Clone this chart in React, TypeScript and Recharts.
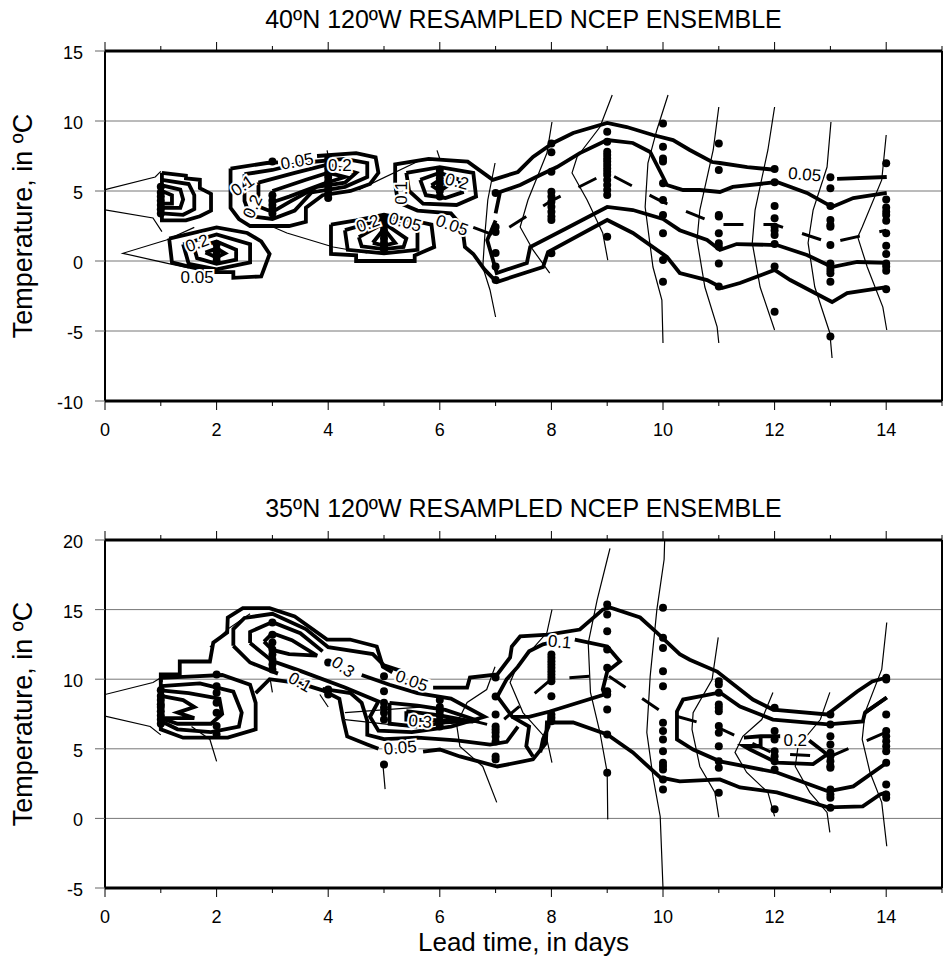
import React from 'react';
import { ComposedChart, Line, Scatter, XAxis, YAxis, CartesianGrid, ReferenceLine } from 'recharts';

type P = number[][];
const FONT = '"Liberation Sans", Arial, Helvetica, sans-serif';

const xTicks = [0, 1, 2, 3, 4, 5, 6, 7, 8, 9, 10, 11, 12, 13, 14, 15];
const xDomain = [0, 15];
const xLabel = 'Lead time, in days';
const yLabel = 'Temperature, in ºC';

// ---------------- TOP PANEL (40N) ----------------
const topTitle = '40ºN 120ºW RESAMPLED NCEP ENSEMBLE';
const topYDomain = [-10, 15];
const topYTicks = [-10, -5, 0, 5, 10, 15];

const topDots: [number, number[]][] = [
  [1, [5.3, 4.9, 4.6, 4.3, 4.0, 3.7, 3.4]],
  [2, [1.2, 0.8, 0.5, 0.3, 0.0]],
  [3, [7.1, 4.7, 4.3, 4.0, 3.7, 3.4]],
  [4, [7.3, 6.9, 6.6, 6.3, 6.0, 5.7, 5.4, 5.1, 4.8, 4.5]],
  [5, [3.1, 2.8, 2.5, 2.2, 1.9, 1.6, 1.3, 1.0, 0.8]],
  [6, [6.5, 6.2, 5.9, 5.6, 5.3, 5.0, 4.6]],
  [7, [4.86, 2.43, 2.07, 0.57, -0.4, -1.36]],
  [8, [8.4, 7.76, 6.38, 4.95, 4.6, 4.24, 3.88, 3.52, 3.17, 2.93, 0.55]],
  [9, [9.24, 8.52, 7.8, 7.57, 7.33, 7.1, 6.86, 6.6, 6.38, 6.14, 5.79, 5.43, 5.07, 4.71, 1.74]],
  [10, [9.83, 8.16, 7.33, 7.1, 5.55, 4.36, 3.29, 1.98, 0.07, -1.48]],
  [11, [8.4, 6.5, 3.29, 3.17, 1.98, 1.26, 1.02, -0.17, -1.83]],
  [12, [6.57, 5.62, 3.93, 3.05, 2.45, 2.17, 1.86, 1.21, -0.4, -3.62]],
  [13, [5.98, 5.19, 3.93, 2.93, 2.57, 2.45, 1.14, -0.17, -0.4, -0.64, -0.88, -1.48, -5.4]],
  [14, [6.98, 4.4, 3.83, 3.52, 3.29, 2.88, 1.98, 1.09, 0.5, -0.17, -0.4, -0.69, -2.02]],
];

const topThick: P[] = [
  [[1.02, 6.3], [1.45, 6.1], [1.45, 5.9], [1.7, 5.8], [1.7, 5.2], [1.9, 4.8], [1.9, 3.6], [1.7, 3.2], [1.45, 2.9], [1.02, 2.9], [1.02, 6.3]],
  [[1.02, 5.8], [1.5, 5.5], [1.6, 4.7], [1.6, 3.7], [1.4, 3.3], [1.02, 3.4]],
  [[1.02, 5.4], [1.35, 5.1], [1.4, 4.4], [1.35, 3.8], [1.02, 3.8]],
  [[1.02, 5.0], [1.2, 4.7], [1.2, 4.1], [1.02, 4.1], [1.02, 5.0]],
  [[1.15, 1.6], [2.0, 2.4], [2.55, 2.0], [2.8, 1.4], [2.95, 0.5], [2.8, -1.1], [2.3, -1.2], [2.3, -0.8], [1.95, -0.8], [1.5, -0.4], [1.2, -0.1], [1.15, 1.6]],
  [[1.4, 1.2], [2.0, 1.9], [2.6, 1.2], [2.6, -0.1], [2.0, -0.6], [1.5, -0.2], [1.4, 1.2]],
  [[1.6, 0.9], [2.0, 1.4], [2.35, 0.8], [2.35, 0.1], [2.0, -0.2], [1.65, 0.2], [1.6, 0.9]],
  [[1.8, 0.6], [2.0, 0.9], [2.15, 0.55], [2.0, 0.25], [1.8, 0.6]],
  [[2.25, 6.6], [2.9, 7.0], [3.1, 7.05]],
  [[3.8, 7.5], [4.5, 7.7], [4.85, 7.4], [4.9, 6.3], [4.75, 5.5], [4.4, 5.0], [3.9, 4.7], [3.6, 3.8], [3.6, 2.8], [3.3, 2.5], [2.6, 2.5], [2.4, 3.0], [2.25, 3.8], [2.25, 6.6]],
  [[2.5, 6.2], [3.0, 6.5], [3.5, 7.0], [4.3, 7.3], [4.7, 7.0], [4.7, 6.0], [4.3, 5.3], [3.7, 4.9], [3.4, 3.6], [3.0, 3.0], [2.6, 3.2], [2.5, 4.3], [2.5, 6.2]],
  [[2.75, 5.6], [3.4, 6.3], [4.0, 6.9], [4.5, 6.3], [4.3, 5.6], [3.8, 5.3], [3.3, 4.2], [3.0, 3.5], [2.75, 3.9], [2.75, 5.6]],
  [[3.0, 5.0], [3.6, 5.8], [4.0, 6.3], [4.3, 6.0], [3.9, 5.5], [3.3, 4.6], [3.0, 4.2], [3.0, 5.0]],
  [[4.05, 2.6], [4.5, 2.9], [5.0, 3.3], [5.5, 2.9], [5.85, 2.6], [5.9, 1.0], [5.55, 0.4], [5.55, 0.0], [4.5, 0.0], [4.5, 0.4], [4.05, 0.5], [4.05, 2.6]],
  [[4.3, 2.2], [5.0, 3.0], [5.6, 2.2], [5.6, 0.8], [5.0, 0.55], [4.35, 0.8], [4.3, 2.2]],
  [[4.55, 1.7], [5.0, 2.7], [5.4, 1.6], [5.35, 1.0], [5.0, 0.85], [4.6, 1.05], [4.55, 1.7]],
  [[4.8, 1.3], [5.0, 2.3], [5.2, 1.3], [5.0, 1.1], [4.8, 1.3]],
  [[5.4, 6.3], [6.0, 6.7], [6.6, 6.3], [6.65, 4.6], [6.3, 4.0], [5.7, 4.1], [5.45, 5.0], [5.4, 6.3]],
  [[5.65, 5.8], [6.0, 6.3], [6.35, 5.8], [6.4, 4.9], [6.1, 4.5], [5.75, 4.7], [5.65, 5.8]],
  [[5.85, 5.4], [6.0, 5.8], [6.15, 5.4], [6.0, 5.0], [5.85, 5.4]],
  [[5.25, 4.2], [5.2, 5.5], [5.2, 6.9], [5.8, 7.3], [6.5, 7.1], [6.95, 5.8], [7.4, 6.36], [7.67, 7.43], [8.03, 8.43], [8.39, 9.14], [9.0, 9.86], [9.35, 9.57], [9.82, 9.0], [10.18, 8.64], [10.48, 7.93], [10.88, 7.07], [11.02, 7.0], [11.51, 6.71], [12.04, 6.5]],
  [[13.12, 5.86], [14.01, 6.0]],
  [[5.25, 4.2], [5.6, 3.6], [6.2, 3.4], [6.4, 2.5], [6.45, 1.0], [6.6, 0.5], [6.8, -0.6], [7.02, -1.5], [7.85, -0.43], [7.94, 0.64], [9.0, 2.93], [9.46, 2.0], [10.07, 0.29], [10.3, -0.86], [10.79, -1.36], [11.06, -1.93], [11.38, -1.57], [12.0, -0.64], [12.28, -1.36], [13.03, -2.93], [13.3, -2.29], [14.01, -1.86]],
  [[7.0, 3.4], [7.08, 4.93], [7.44, 5.43], [7.8, 6.14], [8.1, 6.71], [8.51, 7.71], [9.0, 8.64], [9.46, 8.43], [9.77, 7.79], [10.0, 6.0], [10.07, 5.43], [10.36, 5.07], [10.66, 5.07], [11.02, 4.93], [11.25, 5.29], [12.04, 5.64], [12.58, 4.86], [13.03, 3.86], [13.41, 4.5], [14.01, 4.86]],
  [[7.0, 2.9], [6.85, 1.5], [7.02, -0.86], [7.56, -0.14], [7.62, 1.0], [8.28, 2.36], [9.0, 3.86], [9.46, 3.64], [10.0, 3.0], [10.3, 2.2], [10.79, 1.5], [11.02, 0.79], [11.32, 1.21], [12.04, 1.14], [12.58, 0.43], [13.03, -0.43], [13.48, -0.07], [14.01, -0.14]],
];

const topThin: P[] = [
  [[0.0, 5.1], [0.9, 6.0], [1.0, 6.4]],
  [[0.0, 3.65], [0.86, 3.07], [1.02, 2.1]],
  [[1.6, 2.4], [1.1, 1.5], [0.32, 0.55], [1.1, -0.15], [1.5, -0.5]],
  [[3.0, 2.45], [3.26, 2.0], [4.09, 1.0], [4.7, 0.57]],
  [[4.55, 5.1], [5.65, 7.2]],
  [[6.0, 7.3], [5.95, 7.9]],
  [[3.98, 7.9], [4.0, 7.5]],
  [[6.99, 7.0], [6.86, 4.36], [6.81, 2.0], [6.77, -0.43], [6.9, -2.07], [7.0, -4.0]],
  [[8.01, 9.93], [7.92, 7.71], [7.58, 4.36], [7.44, 2.43], [7.67, 0.79], [7.97, -0.86]],
  [[9.09, 11.86], [8.87, 9.57], [8.46, 7.43], [8.37, 6.29], [8.64, 4.36], [8.92, 2.0], [9.01, 0.07]],
  [[10.09, 11.86], [9.89, 9.36], [9.73, 7.0], [9.68, 3.86], [9.82, -0.43], [9.98, -2.79], [10.0, -5.86]],
  [[11.0, 11.0], [10.9, 7.93], [10.66, 3.64], [10.61, 1.5], [10.75, -1.86], [10.97, -4.71], [11.0, -5.86]],
  [[12.0, 11.0], [11.88, 7.93], [11.65, 3.64], [11.6, 1.29], [11.74, -1.86], [12.0, -4.93]],
  [[13.01, 9.93], [12.94, 6.71], [12.69, 3.64], [12.6, 1.29], [12.72, -1.86], [12.99, -5.14], [13.03, -6.93]],
  [[14.0, 9.0], [13.92, 5.79], [13.57, 2.43], [13.49, 1.71], [13.66, -0.43], [13.94, -3.29], [14.01, -4.93]],
];

const topMean: P = [[6.6, 2.4], [7, 1.8], [8, 4.3], [9, 6.3], [10, 4.2], [11, 2.6], [12, 2.6], [13, 1.3], [14, 2.2]];

const topLabels = [
  { x: 1.65, y: -1.14, t: '0.05', a: 0 },
  { x: 1.65, y: 1.3, t: '0.2', a: 20 },
  { x: 2.46, y: 5.4, t: '0.1', a: 35 },
  { x: 3.44, y: 7.14, t: '0.05', a: 10 },
  { x: 4.21, y: 6.86, t: '0.2', a: 0 },
  { x: 2.64, y: 3.9, t: '0.2', a: 65 },
  { x: 5.3, y: 4.86, t: '0.1', a: 90 },
  { x: 6.31, y: 5.7, t: '0.2', a: -15 },
  { x: 4.71, y: 2.7, t: '0.2', a: 20 },
  { x: 5.38, y: 2.8, t: '0.05', a: -15 },
  { x: 6.22, y: 2.57, t: '0.05', a: -20 },
  { x: 12.54, y: 6.2, t: '0.05', a: -5 },
];

// ---------------- BOTTOM PANEL (35N) ----------------
const botTitle = '35ºN 120ºW RESAMPLED NCEP ENSEMBLE';
const botYDomain = [-5, 20];
const botYTicks = [-5, 0, 5, 10, 15, 20];

const botDots: [number, number[]][] = [
  [1, [9.2, 8.8, 8.5, 8.2, 8.0, 7.7, 7.4, 7.1, 6.8]],
  [2, [10.34, 9.5, 9.02, 8.3, 7.59, 6.63, 6.03]],
  [3, [14.07, 13.2, 12.63, 12.13, 11.77, 11.41, 11.05, 10.7]],
  [4, [11.2, 9.26, 8.9]],
  [5, [10.22, 9.14, 8.3, 7.95, 7.59, 7.11, 3.88]],
  [6, [8.5, 8.0, 7.7, 7.4, 7.0, 6.6]],
  [7, [10.12, 8.76, 7.47, 6.6, 6.39, 6.17, 5.89, 5.53, 4.45, 4.24]],
  [8, [11.77, 11.54, 11.29, 11.05, 10.82, 10.57, 10.34, 10.1, 9.86, 8.78, 7.47, 7.23, 6.98]],
  [9, [15.36, 14.64, 13.45, 12.13, 10.82, 9.14, 8.9, 7.82, 6.03, 3.28]],
  [10, [15.13, 12.97, 12.25, 10.57, 9.5, 6.87, 6.27, 5.67, 4.83, 4.0, 3.76, 3.52, 2.8, 2.08]],
  [11, [9.86, 9.62, 9.02, 8.18, 7.95, 7.7, 6.63, 6.15, 5.19, 4.11, 3.64, 1.84]],
  [12, [7.95, 6.27, 5.67, 4.83, 4.47, 4.11, 3.52, 0.65]],
  [13, [7.47, 6.75, 5.91, 5.31, 4.72, 4.47, 4.11, 3.75, 3.64, 2.08, 1.72, 1.49, 0.77]],
  [14, [10.1, 9.98, 7.47, 6.27, 5.91, 5.55, 5.19, 4.83, 4.0, 2.44, 1.72, 1.49]],
];

const botThick: P[] = [
  [[1.0, 10.1], [1.6, 10.2], [2.1, 10.3], [2.6, 9.6], [2.7, 8.3], [2.7, 6.4], [2.2, 5.8], [1.4, 5.8], [1.0, 6.4], [1.0, 10.1]],
  [[1.0, 9.5], [1.7, 9.7], [2.3, 9.1], [2.45, 7.6], [2.4, 6.6], [1.9, 6.2], [1.3, 6.4], [1.0, 7.0], [1.0, 9.5]],
  [[1.0, 9.2], [1.5, 9.0], [2.05, 8.6], [2.1, 7.5], [1.9, 6.8], [1.3, 6.8], [1.0, 7.2], [1.0, 9.2]],
  [[1.0, 8.8], [1.4, 8.5], [1.6, 8.0], [1.3, 7.6], [1.6, 7.2], [1.0, 7.2]],
  [[1.0, 9.8], [1.0, 10.35], [1.34, 10.35], [1.34, 11.27], [1.88, 11.27], [1.94, 12.63], [2.19, 13.35], [2.2, 14.43], [2.47, 15.1], [2.95, 15.1], [3.4, 14.5], [3.98, 12.85], [4.39, 12.85], [4.87, 12.35], [4.98, 10.9], [5.15, 10.5]],
  [[5.88, 9.4], [6.49, 9.4], [6.54, 10.12], [7.03, 10.34], [7.26, 11.56], [7.29, 12.35], [7.44, 13.07], [7.94, 13.2], [8.51, 13.57], [8.92, 15.0], [9.05, 15.15], [9.59, 14.43], [9.89, 13.35], [10.3, 11.8], [10.48, 11.4], [10.97, 10.55], [11.38, 9.26], [11.61, 8.54], [11.97, 7.82], [12.94, 7.47], [13.48, 9.12], [13.75, 9.84], [14.01, 10.12]],
  [[2.7, 9.0], [2.95, 10.0], [3.5, 9.7], [3.9, 9.2], [4.2, 8.6], [4.27, 7.1], [4.34, 5.89], [4.7, 5.31], [4.9, 5.0]],
  [[5.7, 4.8], [6.0, 4.95], [6.36, 4.45], [7.03, 3.73], [7.67, 4.24], [7.9, 5.4], [7.92, 6.9], [8.39, 6.89], [9.0, 6.03], [9.46, 4.74], [9.95, 2.94], [10.3, 2.66], [11.02, 2.8], [11.38, 2.22], [12.04, 1.87], [12.96, 0.79], [13.58, 0.86], [13.89, 1.72], [14.01, 1.87]],
  [[2.3, 12.4], [2.3, 13.6], [2.5, 14.4], [3.0, 14.7], [3.6, 13.6], [4.0, 12.3], [4.8, 11.8], [5.0, 11.0], [5.3, 10.6]],
  [[2.3, 12.4], [2.6, 11.2], [3.1, 10.4]],
  [[3.9, 9.3], [4.4, 9.0], [4.6, 8.3], [4.7, 7.0], [4.7, 6.0], [5.0, 5.7], [5.6, 5.8], [6.3, 5.6], [6.9, 5.3], [7.2, 5.5], [7.4, 6.6]],
  [[2.6, 12.6], [2.6, 13.4], [3.0, 14.1], [3.5, 13.3], [3.9, 12.0]],
  [[4.6, 10.3], [5.1, 9.6], [5.6, 9.0], [6.2, 8.6], [6.8, 7.3], [6.2, 6.6], [5.5, 6.2], [4.9, 6.3], [4.75, 7.3], [4.9, 8.4], [4.3, 9.4], [3.5, 10.6], [3.0, 11.3], [2.6, 12.6]],
  [[2.85, 12.7], [3.0, 13.3], [3.35, 12.8], [3.8, 11.7], [3.3, 11.8], [3.0, 12.1], [2.85, 12.7]],
  [[5.1, 8.3], [5.6, 8.1], [6.1, 7.8], [6.7, 7.0], [6.1, 6.9], [5.6, 6.6], [5.1, 6.8], [5.1, 8.3]],
  [[5.4, 7.7], [6.0, 7.4], [6.6, 6.95], [6.0, 7.05], [5.4, 7.1], [5.4, 7.7]],
  [[7.03, 8.76], [7.2, 10.0], [7.4, 10.9], [7.6, 12.0], [7.85, 12.5], [7.95, 12.6]],
  [[8.42, 12.85], [9.0, 12.35], [9.23, 11.27], [9.0, 10.55], [8.92, 9.26], [8.95, 8.9], [7.97, 7.68], [7.6, 7.3], [7.3, 7.3], [7.03, 8.76]],
  [[7.3, 7.3], [7.6, 6.6], [7.55, 5.2], [7.67, 4.45]],
  [[7.97, 7.68], [7.95, 6.6], [7.85, 5.7], [7.8, 4.74]],
  [[14.01, 8.69], [13.62, 7.6], [13.58, 6.96], [12.96, 6.75], [11.97, 7.1], [11.38, 8.04], [11.02, 9.05], [10.66, 8.76], [10.36, 8.54], [10.25, 7.68], [10.25, 5.67], [10.54, 4.95], [11.02, 4.1], [12.04, 3.3], [12.96, 1.94], [13.41, 2.3], [14.01, 4.0]],
  [[11.45, 5.8], [11.75, 5.9], [12.1, 5.9]],
  [[12.62, 5.6], [12.94, 4.6], [12.69, 3.9], [12.04, 4.0], [11.56, 4.95], [11.45, 5.2], [11.75, 5.2], [11.75, 5.8]],
  [[13.62, 7.6], [14.01, 8.69]],
];

const botThin: P[] = [
  [[0.0, 8.9], [0.86, 9.76], [1.0, 10.1]],
  [[0.0, 7.35], [0.81, 6.6], [1.0, 6.0]],
  [[1.55, 6.6], [1.88, 5.67], [2.0, 4.1]],
  [[1.88, 12.3], [2.2, 13.6], [2.6, 14.7]],
  [[2.96, 10.0], [3.0, 9.05]],
  [[3.85, 8.9], [4.0, 8.0]],
  [[4.98, 3.9], [5.02, 2.1]],
  [[4.3, 7.6], [5.65, 8.0]],
  [[4.3, 7.1], [5.65, 6.5]],
  [[6.99, 10.9], [6.84, 9.26], [6.49, 8.33], [6.3, 6.8], [6.36, 5.17], [6.77, 3.73], [7.02, 1.15]],
  [[8.01, 15.0], [7.92, 13.35], [7.38, 10.9], [7.26, 9.76], [7.49, 7.6], [7.92, 5.67], [8.01, 4.0]],
  [[9.05, 19.4], [9.0, 18.6], [8.82, 15.7], [8.66, 12.6], [8.7, 9.05], [8.87, 6.17], [9.0, 3.3], [9.01, -0.07]],
  [[10.03, 20], [10.02, 18.6], [9.89, 15.0], [9.77, 10.2], [9.71, 6.17], [9.82, 3.0], [9.95, 0.14], [10.0, -5.0]],
  [[10.99, 13.0], [10.88, 9.98], [10.54, 7.6], [10.52, 6.39], [10.66, 3.73], [10.93, 1.87], [11.0, 0.07]],
  [[11.97, 9.05], [11.77, 7.1], [11.43, 5.9], [11.29, 4.74], [11.5, 3.3], [11.88, 1.87], [12.0, 0.14]],
  [[12.99, 9.05], [12.82, 7.1], [12.42, 5.17], [12.37, 3.73], [12.63, 1.87], [12.94, 0.43], [12.99, -1.0]],
  [[14.01, 14.07], [13.92, 10.7], [13.62, 7.6], [13.57, 5.67], [13.71, 3.3], [13.92, 1.15], [14.01, -2.0]],
];

const botMean: P = [[6.5, 7.1], [7, 6.6], [8, 10.0], [9, 10.3], [10, 7.6], [11, 6.5], [12, 4.65], [13, 4.45], [14, 6.2]];

const botLabels = [
  { x: 5.5, y: 9.9, t: '0.05', a: -20 },
  { x: 5.29, y: 5.1, t: '0.05', a: 5 },
  { x: 4.27, y: 10.9, t: '0.3', a: -35 },
  { x: 3.5, y: 9.8, t: '0.1', a: -30 },
  { x: 5.65, y: 7.0, t: '0.3', a: -5 },
  { x: 8.15, y: 12.7, t: '0.1', a: -5 },
  { x: 12.37, y: 5.6, t: '0.2', a: 0 },
];

// ---------------- components ----------------
const toPts = (p: P) => p.map(([x, y]) => ({ x, y }));

const BottomTick = (props: any) => {
  const { x, y, payload } = props;
  const v = payload.value;
  const major = v % 2 === 0;
  return (
    <g>
      <line x1={x} y1={y} x2={x} y2={y + (major ? 9 : 5)} stroke="#000" strokeWidth={1} />
      {major && v <= 14 ? (
        <text x={x} y={y + 35} textAnchor="middle" fontSize={18} fontFamily={FONT} fill="#000">{v}</text>
      ) : null}
    </g>
  );
};

const TopTick = (props: any) => {
  const { x, y, payload } = props;
  const major = payload.value % 2 === 0;
  return <line x1={x} y1={y} x2={x} y2={y - (major ? 9 : 5)} stroke="#000" strokeWidth={1} />;
};

const LeftTick = (props: any) => {
  const { x, y, payload } = props;
  return (
    <g>
      <line x1={x - 10} y1={y} x2={x} y2={y} stroke="#666" strokeWidth={1} />
      <text x={x - 22} y={y + 8} textAnchor="end" fontSize={18} fontFamily={FONT} fill="#000">{payload.value}</text>
    </g>
  );
};

const DotShape = (p: any) => <circle cx={p.cx} cy={p.cy} r={4} fill="#000" />;

const LabelShape = (p: any) => {
  const d = p.payload || p;
  return (
    <text
      x={p.cx}
      y={p.cy + 6}
      textAnchor="middle"
      fontSize={17}
      fontFamily={FONT}
      fill="#000"
      stroke="#fff"
      strokeWidth={4}
      paintOrder="stroke"
      transform={`rotate(${-d.a} ${p.cx} ${p.cy})`}
    >
      {d.t}
    </text>
  );
};

type PanelProps = {
  top: number;
  height: number;
  plotTop: number;
  plotBottom: number;
  title: string;
  yDomain: number[];
  yTicks: number[];
  thick: P[];
  thin: P[];
  mean: P;
  dots: [number, number[]][];
  labels: { x: number; y: number; t: string; a: number }[];
};

function Panel(props: PanelProps) {
  const { top, height, plotTop, plotBottom, title, yDomain, yTicks, thick, thin, mean, dots, labels } = props;
  const dotPts = dots.flatMap(([d, ts]) => ts.map((t) => ({ x: d, y: t })));
  const plotMid = (plotTop + plotBottom) / 2;
  return (
    <div style={{ position: 'absolute', left: 0, top, width: 943, height }}>
      <div
        style={{
          position: 'absolute', left: 105, width: 837, top: plotTop - 44, textAlign: 'center',
          fontFamily: FONT, fontSize: 25, lineHeight: '25px', color: '#000', whiteSpace: 'nowrap',
        }}
      >
        {title}
      </div>
      <div
        style={{
          position: 'absolute', left: 23 - 200, top: plotMid - 15, width: 400, height: 30,
          textAlign: 'center', fontFamily: FONT, fontSize: 27, lineHeight: '30px', color: '#000',
          transform: 'rotate(-90deg)', whiteSpace: 'nowrap',
        }}
      >
        {yLabel}
      </div>
      <ComposedChart
        width={943}
        height={height}
        margin={{ top: plotTop - 10, right: 1, bottom: height - plotBottom - 30, left: 45 }}
      >
        <CartesianGrid vertical={false} stroke="#777" strokeWidth={1} />
        <XAxis
          dataKey="x" type="number" domain={xDomain} ticks={xTicks} interval={0} allowDataOverflow
          height={30} tickLine={false} tickSize={0} tickMargin={0}
          axisLine={{ stroke: '#000', strokeWidth: 3 }} tick={BottomTick}
        />
        <XAxis
          xAxisId="top" orientation="top" dataKey="x" type="number" domain={xDomain} ticks={xTicks} interval={0}
          allowDataOverflow height={10} tickLine={false} tickSize={0} tickMargin={0}
          axisLine={{ stroke: '#000', strokeWidth: 3 }} tick={TopTick}
        />
        <YAxis
          dataKey="y" type="number" domain={yDomain} ticks={yTicks} interval={0} allowDataOverflow
          width={60} tickLine={false} tickSize={0} tickMargin={0}
          axisLine={{ stroke: '#000', strokeWidth: 2 }} tick={LeftTick}
        />
        <ReferenceLine x={15} stroke="#000" strokeWidth={2} />
        <Line
          xAxisId="top" data={[{ x: 0, y: yDomain[0] }, { x: 15, y: yDomain[0] }]} dataKey="y"
          stroke="none" dot={false} activeDot={false} isAnimationActive={false}
        />
        {thin.map((p, i) => (
          <Line
            key={'thin' + i} data={toPts(p)} dataKey="y" type="linear" stroke="#000" strokeWidth={1.2}
            dot={false} activeDot={false} isAnimationActive={false}
          />
        ))}
        {thick.map((p, i) => (
          <Line
            key={'thick' + i} data={toPts(p)} dataKey="y" type="linear" stroke="#000" strokeWidth={3.8}
            strokeLinejoin="miter" dot={false} activeDot={false} isAnimationActive={false}
          />
        ))}
        <Line
          data={toPts(mean)} dataKey="y" type="linear" stroke="#000" strokeWidth={3}
          strokeDasharray="20 20" dot={false} activeDot={false} isAnimationActive={false}
        />
        <Scatter data={dotPts} dataKey="y" isAnimationActive={false} shape={DotShape} />
        <Scatter data={labels} dataKey="y" isAnimationActive={false} shape={LabelShape} />
      </ComposedChart>
    </div>
  );
}

export default function App() {
  return (
    <div style={{ position: 'absolute', left: 0, top: 0, width: 943, height: 959, background: '#fff', overflow: 'hidden' }}>
      <Panel
        top={0} height={480} plotTop={51} plotBottom={401} title={topTitle}
        yDomain={topYDomain} yTicks={topYTicks} thick={topThick} thin={topThin}
        mean={topMean} dots={topDots} labels={topLabels}
      />
      <Panel
        top={480} height={479} plotTop={60} plotBottom={408} title={botTitle}
        yDomain={botYDomain} yTicks={botYTicks} thick={botThick} thin={botThin}
        mean={botMean} dots={botDots} labels={botLabels}
      />
      <div
        style={{
          position: 'absolute', left: 105, width: 837, top: 927, textAlign: 'center',
          fontFamily: FONT, fontSize: 26, lineHeight: '30px', color: '#000', whiteSpace: 'nowrap',
        }}
      >
        {xLabel}
      </div>
    </div>
  );
}
